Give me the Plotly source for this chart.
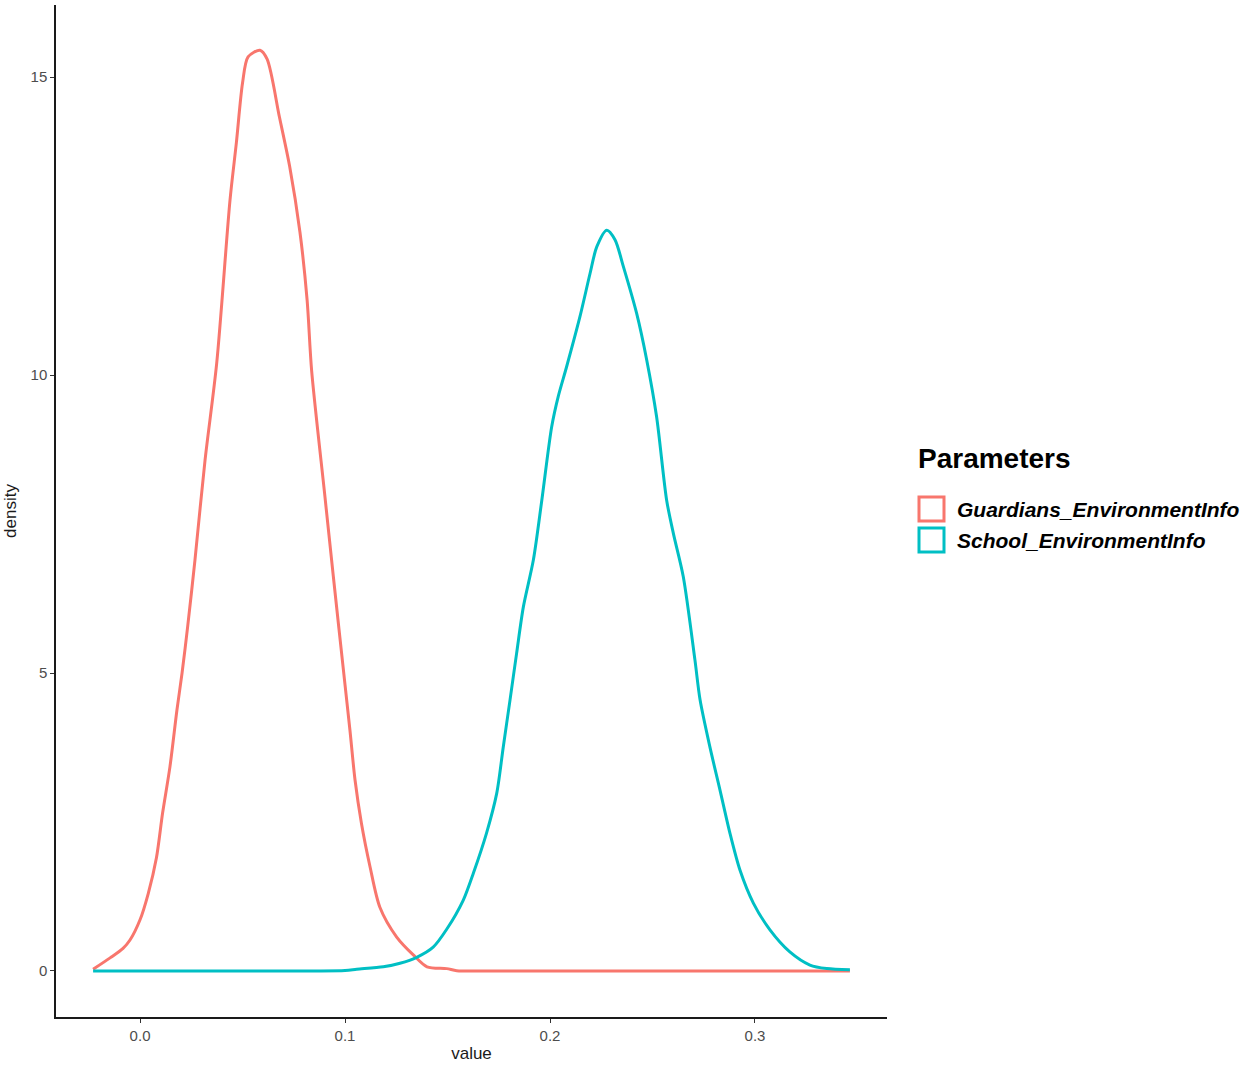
import plotly.graph_objects as go

# ---- data ----
guardians_x = [-0.0229, -0.0146, -0.0083, -0.0049, 0.0, 0.004, 0.008, 0.011, 0.0146, 0.018,
               0.0205, 0.0232, 0.0268, 0.0317, 0.0374, 0.0439, 0.047, 0.050, 0.0527, 0.0585,
               0.062, 0.068, 0.073, 0.078, 0.0815, 0.0837, 0.0902, 0.0943, 0.1, 0.1024,
               0.1049, 0.108, 0.1122, 0.117, 0.1252, 0.1333, 0.14, 0.1496, 0.1545, 0.17,
               0.2, 0.25, 0.3, 0.3463]
guardians_y = [0.03, 0.22, 0.38, 0.52, 0.86, 1.3, 1.9, 2.65, 3.43, 4.38,
               5.0, 5.77, 6.9, 8.57, 10.2, 12.94, 13.9, 14.9, 15.34, 15.45,
               15.3, 14.33, 13.5, 12.4, 11.26, 10.08, 7.96, 6.62, 4.8, 4.04,
               3.2, 2.48, 1.75, 1.07, 0.57, 0.27, 0.07, 0.04, 0.005, 0.0,
               0.0, 0.0, 0.0, 0.0]

school_x = [-0.0229, 0.05, 0.1, 0.1057, 0.1187, 0.1268, 0.135, 0.143, 0.1496, 0.1577,
            0.1626, 0.169, 0.174, 0.1772, 0.1805, 0.1837, 0.187, 0.1919, 0.196, 0.2008,
            0.204, 0.2081, 0.2146, 0.2195, 0.2228, 0.2277, 0.2317, 0.2358, 0.2423, 0.2472,
            0.2520, 0.2569, 0.2602, 0.265, 0.2707, 0.2732, 0.278, 0.2829, 0.2878, 0.2927,
            0.2992, 0.3073, 0.317, 0.3268, 0.335, 0.3463]
school_y = [0.0, 0.0, 0.01, 0.03, 0.07, 0.13, 0.23, 0.4, 0.7, 1.19,
            1.64, 2.31, 2.98, 3.76, 4.55, 5.33, 6.11, 6.9, 7.9, 9.13,
            9.64, 10.14, 10.98, 11.7, 12.15, 12.43, 12.27, 11.82, 11.03, 10.25,
            9.3, 7.9, 7.34, 6.62, 5.22, 4.55, 3.76, 3.04, 2.31, 1.69,
            1.14, 0.69, 0.32, 0.1, 0.04, 0.02]

series_names = ["Guardians_EnvironmentInfo", "School_EnvironmentInfo"]
series_colors = ["#F8766D", "#00BFC4"]

x_tick_vals = [0.0, 0.1, 0.2, 0.3]
x_tick_text = ["0.0", "0.1", "0.2", "0.3"]
y_tick_vals = [0, 5, 10, 15]
y_tick_text = ["0", "5", "10", "15"]

FONT = "Liberation Sans, Arial, sans-serif"

fig = go.Figure()
for xs, ys, name, col in [(guardians_x, guardians_y, series_names[0], series_colors[0]),
                          (school_x, school_y, series_names[1], series_colors[1])]:
    fig.add_trace(go.Scatter(x=xs, y=ys, mode="lines", name=name,
                             line=dict(color=col, width=3, shape="spline", smoothing=0.8),
                             showlegend=False))

W, H = 1249, 1066
ml, mr, mt, mb = 56, 362, 5, 49
pw, ph = W - ml - mr, H - mt - mb

def px_x(px):
    return (px - ml) / pw

def px_y(py):
    return (H - mb - py) / ph

fig.update_layout(
    width=W, height=H,
    margin=dict(l=ml, r=mr, t=mt, b=mb, pad=0),
    paper_bgcolor="white", plot_bgcolor="white",
    font=dict(family=FONT, color="#4d4d4d"),
    xaxis=dict(range=[-0.041, 0.3644], tickvals=x_tick_vals, ticktext=x_tick_text,
               showgrid=False, zeroline=False, showline=True, linecolor="#1a1a1a", linewidth=1.5,
               ticks="outside", ticklen=4, tickwidth=1.2, tickcolor="#333333",
               tickfont=dict(size=15, color="#4d4d4d", family=FONT),
               title=dict(text="value", font=dict(size=17, color="#1a1a1a", family=FONT), standoff=4)),
    yaxis=dict(range=[-0.772, 16.21], tickvals=y_tick_vals, ticktext=y_tick_text,
               showgrid=False, zeroline=False, showline=True, linecolor="#1a1a1a", linewidth=1.5,
               ticks="outside", ticklen=4, tickwidth=1.2, tickcolor="#333333",
               tickfont=dict(size=15, color="#4d4d4d", family=FONT),
               title=dict(text="density", font=dict(size=17, color="#1a1a1a", family=FONT), standoff=10)),
)

# manual legend
annotations = [dict(xref="paper", yref="paper", x=px_x(916), y=px_y(459), xanchor="left", yanchor="middle",
                    text="<b>Parameters</b>", showarrow=False,
                    font=dict(size=28, color="#000000", family=FONT))]
box_tops = [496, 527]
for name, col, top in zip(series_names, series_colors, box_tops):
    fig.add_shape(type="rect", xref="paper", yref="paper",
                  x0=px_x(919), x1=px_x(944), y0=px_y(top + 25), y1=px_y(top + 1),
                  line=dict(color=col, width=3), fillcolor="white")
    annotations.append(dict(xref="paper", yref="paper", x=px_x(955), y=px_y(top + 13),
                            xanchor="left", yanchor="middle", showarrow=False,
                            text="<b><i>" + name + "</i></b>",
                            font=dict(size=21, color="#000000", family=FONT)))
fig.update_layout(annotations=annotations)

fig.write_html("out.html", config={"displayModeBar": False},
               post_script="document.body.style.margin='0';document.body.style.overflow='hidden';")
